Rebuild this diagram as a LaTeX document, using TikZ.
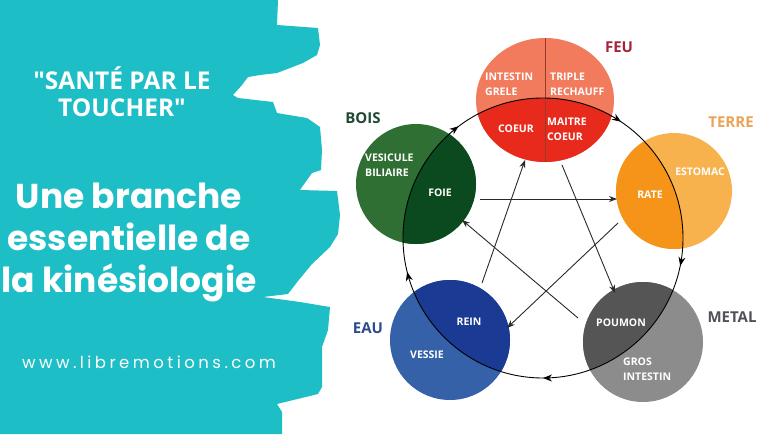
\documentclass[tikz,border=0pt]{standalone}
\usepackage{fontspec}
\setmainfont{Open Sans}
\newfontfamily\titlefont{Open Sans}
\newfontfamily\bigfont{Poppins}
\newfontfamily\urlfont[LetterSpace=21]{Poppins}
\usetikzlibrary{positioning,arrows.meta,decorations.markings}
\definecolor{panelteal}{HTML}{1EBEC6}
\definecolor{woodlt}{HTML}{2F6F33}
\definecolor{wooddk}{HTML}{0B4A1E}
\definecolor{firelt}{HTML}{F27B5E}
\definecolor{firedk}{HTML}{E82A1C}
\definecolor{firediv}{HTML}{9A3A2A}
\definecolor{earthlt}{HTML}{F8B24D}
\definecolor{earthdk}{HTML}{F6941A}
\definecolor{waterlt}{HTML}{3461A8}
\definecolor{waterdk}{HTML}{1A3A93}
\definecolor{metallt}{HTML}{8C8C8C}
\definecolor{metaldk}{HTML}{555555}
\definecolor{boistxt}{HTML}{1F4A34}
\definecolor{feutxt}{HTML}{A8223E}
\definecolor{terretxt}{HTML}{E9A456}
\definecolor{eautxt}{HTML}{2B4C8C}
\definecolor{metaltxt}{HTML}{505058}
\definecolor{linegrey}{HTML}{2A2A2A}
\tikzset{
  organ/.style = {font=\bfseries\fontsize{10.5}{15}\selectfont, text=white,
                  inner sep=0pt, align=left},
  elab/.style  = {font=\bfseries\fontsize{15}{17}\selectfont, inner sep=0pt},
  title/.style = {font=\titlefont\bfseries\fontsize{24.5}{27}\selectfont, text=white,
                  inner sep=0pt, align=center},
  big/.style   = {font=\bigfont\bfseries\fontsize{34.5}{42}\selectfont, text=white,
                  inner sep=0pt, align=center},
  arr/.style   = {-{Stealth[length=8pt,width=6pt]}, line width=0.9pt, draw=linegrey},
  cyc/.style   = {line width=0.9pt, draw=black, postaction=decorate,
                  decoration={markings,
                    mark=at position 0.094 with {\arrow{Stealth[length=9pt,width=7pt]}},
                    mark=at position 0.282 with {\arrow{Stealth[length=9pt,width=7pt]}},
                    mark=at position 0.500 with {\arrow{Stealth[length=9pt,width=7pt]}},
                    mark=at position 0.711 with {\arrow{Stealth[length=9pt,width=7pt]}},
                    mark=at position 0.897 with {\arrow{Stealth[length=9pt,width=7pt]}}}},
}
\begin{document}
\begin{tikzpicture}[x=1pt, y=-1pt]
  \useasboundingbox (0,0) rectangle (770,434);
  \fill[white] (0,0) rectangle (770,434);

  % --- torn teal panel on the left ---
  \fill[panelteal] (0,0) -- (278,0) -- (277,25) -- (318,28) -- (320,45) -- (317,55)
    -- (303,63) -- (290,68) -- (277,73) -- (260,75) -- (248,77) -- (242,85)
    -- (233,95) -- (238,98) -- (273,102) -- (277,113) -- (307,118) -- (320,127)
    -- (322,150) -- (321,170) -- (312,173) -- (307,180) -- (302,187) -- (300,190)
    -- (337,191) -- (340,215) -- (338,234) -- (330,247) -- (312,264) -- (298,281)
    -- (288,294) -- (263,297) -- (300,302) -- (330,307) -- (328,330) -- (322,347)
    -- (322,387) -- (318,394) -- (277,404) -- (282,412) -- (282,434) -- (0,434) -- cycle;

  \node[title] (titre) at (122,92) {"SANTÉ PAR LE\\TOUCHER"};
  \node[big] (slogan) at (129,242) {Une branche\\essentielle de\\la kinésiologie};
  \node[inner sep=0pt, text=white, font=\urlfont\fontsize{16.5}{18}\selectfont,
        anchor=base] (site) at (149,368) {www.libremotions.com};

  % --- the five elements ---
  \coordinate (ring)   at (543,238);
  \coordinate (woodc)  at (416,184);
  \coordinate (firec)  at (545,100);
  \coordinate (earthc) at (674,191);
  \coordinate (waterc) at (450,340);
  \coordinate (metalc) at (643,342);

  \fill[woodlt]  (woodc)  circle (60);
  \fill[firelt]  (firec)  ellipse (69 and 62);
  \fill[earthlt] (earthc) circle (58);
  \fill[waterlt] (waterc) circle (60);
  \fill[metallt] (metalc) circle (60);
  \begin{scope}
    \clip (ring) circle (140);
    \fill[wooddk]  (woodc)  circle (60);
    \fill[firedk]  (firec)  ellipse (69 and 62);
    \fill[earthdk] (earthc) circle (58);
    \fill[waterdk] (waterc) circle (60);
    \fill[metaldk] (metalc) circle (60);
  \end{scope}
  \draw[firediv, line width=0.6pt] (firec) ++(0,-62) -- ++(0,124);

  \draw[cyc] (ring) ++(0,-140) arc[start angle=-90, end angle=270, radius=140];

  \node[elab, text=boistxt]  (bois)  at (363,118) {BOIS};
  \node[elab, text=feutxt]   (feu)   at (619,47)  {FEU};
  \node[elab, text=terretxt] (terre) at (731,122) {TERRE};
  \node[elab, text=eautxt]   (eau)   at (368,328) {EAU};
  \node[elab, text=metaltxt] (metal) at (732,317) {METAL};

  \node[organ, anchor=west] (intgrele) at (485,84)  {INTESTIN\\GRELE};
  \node[organ, anchor=west] (triple)   at (550,84)  {TRIPLE\\RECHAUFF};
  \node[organ]              (coeur)    at (516,129) {COEUR};
  \node[organ, anchor=west] (maitre)   at (547,129) {MAITRE\\COEUR};
  \node[organ, anchor=west] (vesicule) at (365,165) {VESICULE\\BILIAIRE};
  \node[organ]              (foie)     at (440,193) {FOIE};
  \node[organ]              (estomac)  at (700,172) {ESTOMAC};
  \node[organ]              (rate)     at (650,195) {RATE};
  \node[organ]              (rein)     at (469,322) {REIN};
  \node[organ]              (vessie)   at (427,355) {VESSIE};
  \node[organ]              (poumon)   at (621,323) {POUMON};
  \node[organ, anchor=west] (gros)     at (623,369) {GROS\\INTESTIN};

  % --- star arrows ---
  \coordinate (foieout)   at (480,199);
  \coordinate (ratein)    at (617,199);
  \coordinate (rateout)   at (618,223);
  \coordinate (reinin)    at (507,328);
  \coordinate (reinout)   at (482,283);
  \coordinate (coeurin)   at (525,160);
  \coordinate (coeurout)  at (562,165);
  \coordinate (poumonin)  at (615,293);
  \coordinate (poumonout) at (578,318);
  \coordinate (foiein)    at (462,220);
  \draw[arr] (foieout)   -- (ratein);
  \draw[arr] (rateout)   -- (reinin);
  \draw[arr] (reinout)   -- (coeurin);
  \draw[arr] (coeurout)  -- (poumonin);
  \draw[arr] (poumonout) -- (foiein);
\end{tikzpicture}
\end{document}
